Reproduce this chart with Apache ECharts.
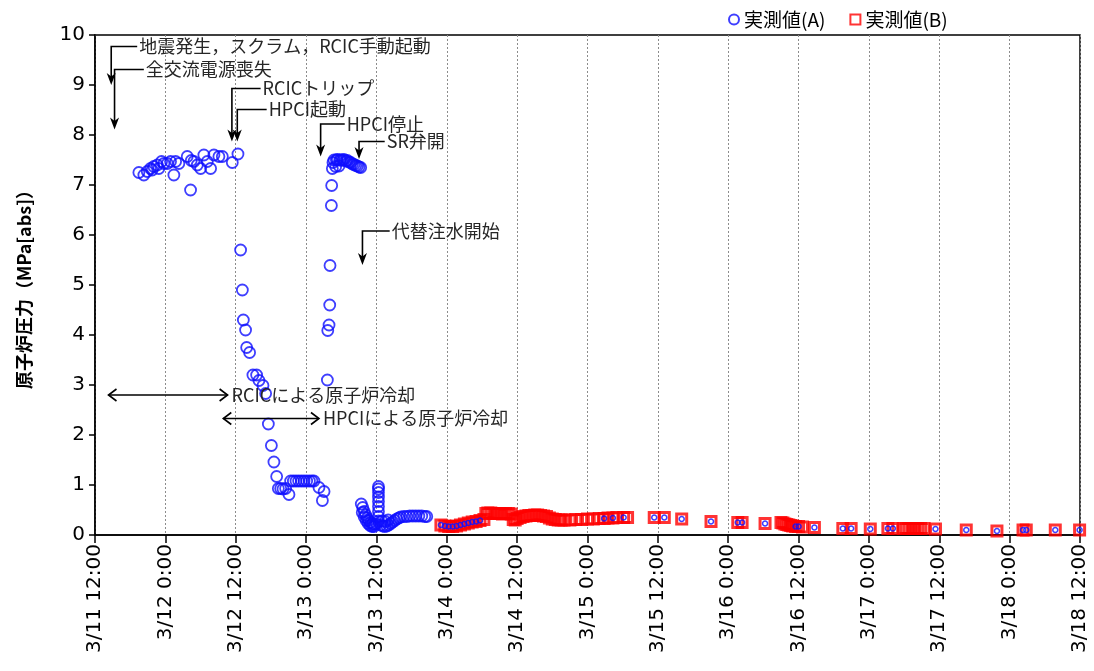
<!DOCTYPE html>
<html><head><meta charset="utf-8">
<script src="https://cdn.jsdelivr.net/npm/echarts@6/dist/echarts.min.js"></script>
<style>html,body{margin:0;padding:0;background:#fff}#c{width:1094px;height:671px}</style>
</head><body><div id="c"></div>
<script>
const tickLabels = ['3/11 12:00','3/12 0:00','3/12 12:00','3/13 0:00','3/13 12:00','3/14 0:00','3/14 12:00','3/15 0:00','3/15 12:00','3/16 0:00','3/16 12:00','3/17 0:00','3/17 12:00','3/18 0:00','3/18 12:00'];

// 実測値(A) — main record
const timesA = ['3/11 19:29','3/11 20:20','3/11 20:55','3/11 21:28','3/11 21:45','3/11 22:02','3/11 22:37','3/11 22:53','3/11 23:21','3/11 23:45','3/12 0:20','3/12 0:53','3/12 1:27','3/12 1:45','3/12 2:18','3/12 3:44','3/12 4:18','3/12 4:25','3/12 4:52','3/12 5:27','3/12 6:01','3/12 6:34','3/12 7:09','3/12 7:43','3/12 8:17','3/12 9:08','3/12 9:43','3/12 11:25','3/12 12:23',
'3/12 12:50','3/12 13:08','3/12 13:18','3/12 13:41','3/12 13:52','3/12 14:22','3/12 14:56','3/12 15:34','3/12 15:58','3/12 16:39','3/12 17:06','3/12 17:34','3/12 18:05','3/12 18:31','3/12 18:59','3/12 19:16','3/12 19:40','3/12 20:04','3/12 20:31','3/12 21:05','3/12 21:22','3/12 21:50','3/12 22:17','3/12 22:44','3/12 23:12','3/12 23:39','3/13 0:06','3/13 0:34','3/13 1:00','3/13 1:21','3/13 2:12','3/13 2:47','3/13 3:04',
'3/13 3:38','3/13 3:42','3/13 3:55','3/13 4:02','3/13 4:05','3/13 4:19','3/13 4:22','3/13 4:29','3/13 4:35','3/13 4:46','3/13 5:03','3/13 5:10','3/13 5:21','3/13 5:37','3/13 5:45','3/13 5:55','3/13 6:12','3/13 6:28','3/13 6:46','3/13 7:03','3/13 7:20','3/13 7:37','3/13 7:54','3/13 8:11','3/13 8:28','3/13 8:46','3/13 9:02','3/13 9:19',
'3/13 9:25','3/13 9:40','3/13 9:55','3/13 10:10','3/13 10:25','3/13 10:40','3/13 11:00','3/13 11:20','3/13 11:40','3/13 12:00','3/13 9:35','3/13 9:55','3/13 10:15','3/13 10:35','3/13 10:55','3/13 11:15','3/13 11:35',
'3/13 12:21','3/13 12:21','3/13 12:21','3/13 12:21','3/13 12:21','3/13 12:21','3/13 12:21','3/13 12:21','3/13 12:21',
'3/13 12:44','3/13 13:05','3/13 13:25','3/13 13:46','3/13 14:06','3/13 14:27','3/13 14:47','3/13 15:08','3/13 15:28','3/13 15:49','3/13 16:09','3/13 16:40','3/13 17:11','3/13 17:41','3/13 18:12','3/13 18:43','3/13 19:14','3/13 19:44','3/13 20:15','3/13 20:35','3/13 12:55','3/13 13:30','3/13 14:00'];
const valuesA = [7.25,7.20,7.27,7.33,7.30,7.37,7.40,7.33,7.47,7.43,7.43,7.47,7.20,7.47,7.43,7.57,6.90,7.49,7.47,7.40,7.33,7.60,7.47,7.33,7.60,7.57,7.57,7.45,7.62,
5.70,4.90,4.30,4.10,3.75,3.65,3.20,3.20,3.09,2.99,2.83,2.22,1.79,1.46,1.17,0.93,0.93,0.92,0.93,0.81,1.08,1.08,1.08,1.08,1.08,1.08,1.08,1.08,1.08,1.08,0.95,0.69,0.87,
3.10,4.09,4.20,4.60,5.39,6.59,6.99,7.33,7.45,7.50,7.37,7.50,7.51,7.38,7.50,7.50,7.50,7.51,7.48,7.49,7.46,7.45,7.42,7.41,7.39,7.38,7.36,7.35,
0.62,0.55,0.47,0.40,0.34,0.29,0.25,0.22,0.21,0.22,0.45,0.36,0.29,0.23,0.19,0.17,0.17,
0.97,0.92,0.85,0.76,0.67,0.57,0.47,0.37,0.28,
0.20,0.18,0.17,0.18,0.20,0.23,0.26,0.29,0.32,0.34,0.36,0.37,0.37,0.38,0.38,0.38,0.38,0.38,0.37,0.37,0.28,0.27,0.30];

// 実測値(A) — points shown inside the (B) squares
const timesA2 = ['3/13 23:00','3/13 23:40','3/14 0:20','3/14 1:00','3/14 1:40','3/14 2:20','3/14 3:00','3/14 3:40','3/14 4:20','3/14 5:00','3/14 5:40','3/15 2:50','3/15 4:20','3/15 6:10','3/15 11:23','3/15 13:06','3/15 16:04','3/15 21:04','3/16 1:38','3/16 2:22','3/16 6:17','3/16 11:30','3/16 12:00','3/16 14:42','3/16 19:33','3/16 20:58','3/17 0:14','3/17 3:14','3/17 4:05','3/17 11:21','3/17 16:36','3/17 21:50','3/18 2:17','3/18 2:50','3/18 7:47','3/18 11:56'];
const valuesA2 = [0.20,0.18,0.17,0.17,0.18,0.20,0.22,0.24,0.26,0.27,0.29,0.33,0.34,0.35,0.35,0.35,0.32,0.27,0.25,0.25,0.23,0.17,0.17,0.15,0.13,0.13,0.12,0.13,0.13,0.12,0.10,0.08,0.10,0.10,0.10,0.10];

// 実測値(B)
const timesB = ['3/13 23:00','3/13 23:40','3/14 0:20','3/14 1:00','3/14 1:40','3/14 2:20','3/14 3:00','3/14 3:40','3/14 4:20','3/14 5:00','3/14 5:40','3/14 6:20',
'3/14 6:40','3/14 7:00','3/14 7:30','3/14 8:00','3/14 8:30','3/14 9:00','3/14 9:30','3/14 10:00','3/14 10:30','3/14 11:00','3/14 11:20','3/14 11:40','3/14 12:00','3/14 12:30','3/14 13:00','3/14 13:30','3/14 14:00','3/14 14:30','3/14 15:00','3/14 15:30','3/14 16:00','3/14 16:30','3/14 17:00','3/14 17:30','3/14 18:00','3/14 18:30','3/14 19:00','3/14 19:30','3/14 20:00','3/14 21:00','3/14 22:00','3/14 23:00','3/15 0:00','3/15 1:00','3/15 2:00','3/15 2:50','3/15 3:30','3/15 4:20','3/15 5:00','3/15 6:10','3/15 6:50',
'3/15 11:23','3/15 13:06','3/15 16:04','3/15 21:04','3/16 1:38','3/16 2:22','3/16 6:17','3/16 9:00','3/16 9:20','3/16 9:40','3/16 10:00','3/16 10:20','3/16 10:40','3/16 11:00','3/16 11:30','3/16 12:00','3/16 12:40','3/16 14:42','3/16 19:33','3/16 20:58','3/17 0:14','3/17 3:14','3/17 4:05','3/17 5:50','3/17 6:20','3/17 6:50','3/17 7:20','3/17 7:50','3/17 8:20','3/17 8:50','3/17 9:25','3/17 11:21','3/17 16:36','3/17 21:50','3/18 2:17','3/18 2:50','3/18 7:47','3/18 11:56'];
const valuesB = [0.20,0.18,0.17,0.17,0.18,0.20,0.22,0.24,0.26,0.27,0.29,0.31,
0.43,0.44,0.44,0.43,0.43,0.43,0.42,0.43,0.43,0.42,0.31,0.30,0.33,0.35,0.37,0.38,0.39,0.39,0.40,0.40,0.39,0.38,0.37,0.34,0.32,0.31,0.30,0.30,0.30,0.30,0.31,0.31,0.32,0.32,0.33,0.33,0.34,0.34,0.35,0.35,0.35,
0.35,0.35,0.32,0.27,0.25,0.25,0.23,0.25,0.24,0.22,0.21,0.20,0.19,0.18,0.17,0.17,0.16,0.15,0.13,0.13,0.12,0.13,0.13,0.13,0.13,0.13,0.13,0.13,0.13,0.13,0.13,0.12,0.10,0.08,0.10,0.10,0.10,0.10];

// annotations (arrow time, arrow tip value, elbow value, text start time)
const annotTexts = ['地震発生，スクラム，RCIC手動起動','全交流電源喪失','RCICトリップ','HPCI起動','HPCI停止','SR弁開','代替注水開始'];
const annotTimes = ['3/11 14:46','3/11 15:20','3/12 11:21','3/12 12:16','3/13 2:29','3/13 9:02','3/13 9:37'];
const annotTip = [9.0,8.11,7.87,7.87,7.57,7.52,5.40];
const annotElbow = [9.77,9.31,8.93,8.51,8.22,7.87,6.08];
const annotTextAt = ['3/11 19:22','3/11 20:30','3/12 16:25','3/12 17:27','3/13 6:46','3/13 13:35','3/13 14:26'];

// span arrows
const spanTexts = ['RCICによる原子炉冷却','HPCIによる原子炉冷却'];
const spanStart = ['3/11 14:18','3/12 9:53'];
const spanEnd = ['3/12 10:37','3/13 2:12'];
const spanValue = [2.80,2.33];

function toHours(s){
  const p = s.split(' '); const d = p[0].split('/').map(Number); const t = p[1].split(':').map(Number);
  return (d[1]-11)*24 + t[0] + t[1]/60 - 12;
}
const zip = (ts, vs) => ts.map((t,i)=>[toHours(t), vs[i]]);

const txtFont = '"Noto Sans CJK JP", sans-serif';
const blue = '#0f0fff';
const chart = echarts.init(document.getElementById('c'));
chart.setOption({
  animation:false,
  backgroundColor:'#fff',
  grid:{left:95,right:14,top:35,bottom:136,show:true,borderColor:'#000',borderWidth:1.5,backgroundColor:'transparent'},
  legend:{top:5,left:723,itemWidth:10,itemHeight:10,itemGap:24,
    textStyle:{fontSize:19,fontFamily:txtFont,color:'#000'},
    data:[{name:'実測値(A)',icon:'circle',itemStyle:{color:'#fff',borderColor:blue,borderWidth:2}},
          {name:'実測値(B)',icon:'rect',itemStyle:{color:'#fff',borderColor:'#ff0000',borderWidth:2}}]},
  xAxis:{type:'value',min:0,max:168,interval:12,
    axisLine:{onZero:false,lineStyle:{color:'#000',width:1.5}},
    axisTick:{show:true,length:8,lineStyle:{color:'#000',width:1.5}},
    axisLabel:{rotate:90,margin:9,fontSize:20,color:'#000',fontFamily:'"DejaVu Sans", sans-serif',
      formatter:v=>tickLabels[Math.round(v/12)]},
    splitLine:{show:true,lineStyle:{color:'#8c8c8c',type:[2,2],width:1}}},
  yAxis:{type:'value',min:0,max:10,interval:1,
    name:'原子炉圧力（MPa[abs]）',nameLocation:'middle',nameGap:62,
    nameTextStyle:{fontSize:18,fontWeight:'bold',fontFamily:txtFont,color:'#000'},
    axisLine:{show:true,lineStyle:{color:'#000',width:1.5}},
    axisTick:{show:true,length:6,lineStyle:{color:'#000',width:1.5}},
    axisLabel:{fontSize:20,color:'#000',margin:10,fontFamily:'"DejaVu Sans", sans-serif'},
    splitLine:{show:false}},
  series:[
    {name:'実測値(A)',type:'scatter',symbol:'circle',symbolSize:11,z:3,
      itemStyle:{color:'rgba(0,0,0,0)',borderColor:blue,borderWidth:1.8},
      emphasis:{disabled:true},data:zip(timesA,valuesA)},
    {name:'実測値(B)',type:'scatter',symbol:'rect',symbolSize:10,z:4,
      itemStyle:{color:'rgba(0,0,0,0)',borderColor:'#ff0000',borderWidth:3},
      emphasis:{disabled:true},data:zip(timesB,valuesB)},
    {name:'実測値(A)',type:'scatter',symbol:'circle',symbolSize:5,z:5,
      itemStyle:{color:'rgba(0,0,0,0)',borderColor:blue,borderWidth:1.5},
      emphasis:{disabled:true},data:zip(timesA2,valuesA2)},
    {type:'custom',silent:true,z:10,clip:false,
      renderItem:(params,api)=>{
        const i = params.dataIndex;
        const tip = api.coord([api.value(0),api.value(1)]);
        const elb = api.coord([api.value(0),api.value(2)]);
        const tx = api.coord([api.value(3),api.value(2)]);
        return {type:'group',children:[
          {type:'polyline',shape:{points:[[tx[0]-1,elb[1]],[elb[0],elb[1]],[tip[0],tip[1]-8]]},style:{stroke:'#000',lineWidth:1.6,fill:null}},
          {type:'polygon',shape:{points:[[tip[0],tip[1]],[tip[0]-4.5,tip[1]-12],[tip[0],tip[1]-8.5],[tip[0]+4.5,tip[1]-12]]},style:{fill:'#000'}},
          {type:'text',x:tx[0]+1,y:elb[1],style:{text:annotTexts[i],fontSize:18,fontFamily:txtFont,fill:'#262626',verticalAlign:'middle',align:'left'}}
        ]};
      },
      data:annotTimes.map((t,i)=>[toHours(t),annotTip[i],annotElbow[i],toHours(annotTextAt[i])])},
    {type:'custom',silent:true,z:10,clip:false,
      renderItem:(params,api)=>{
        const i = params.dataIndex;
        const a = api.coord([api.value(0),api.value(2)]);
        const b = api.coord([api.value(1),api.value(2)]);
        const s = {stroke:'#000',lineWidth:1.6,fill:null};
        return {type:'group',children:[
          {type:'line',shape:{x1:a[0],y1:a[1],x2:b[0],y2:b[1]},style:s},
          {type:'polyline',shape:{points:[[a[0]+8,a[1]-6],[a[0],a[1]],[a[0]+8,a[1]+6]]},style:s},
          {type:'polyline',shape:{points:[[b[0]-8,b[1]-6],[b[0],b[1]],[b[0]-8,b[1]+6]]},style:s},
          {type:'text',x:b[0]+4,y:b[1],style:{text:spanTexts[i],fontSize:18,fontFamily:txtFont,fill:'#262626',verticalAlign:'middle',align:'left'}}
        ]};
      },
      data:spanStart.map((t,i)=>[toHours(t),toHours(spanEnd[i]),spanValue[i]])}
  ]
});
</script></body></html>
